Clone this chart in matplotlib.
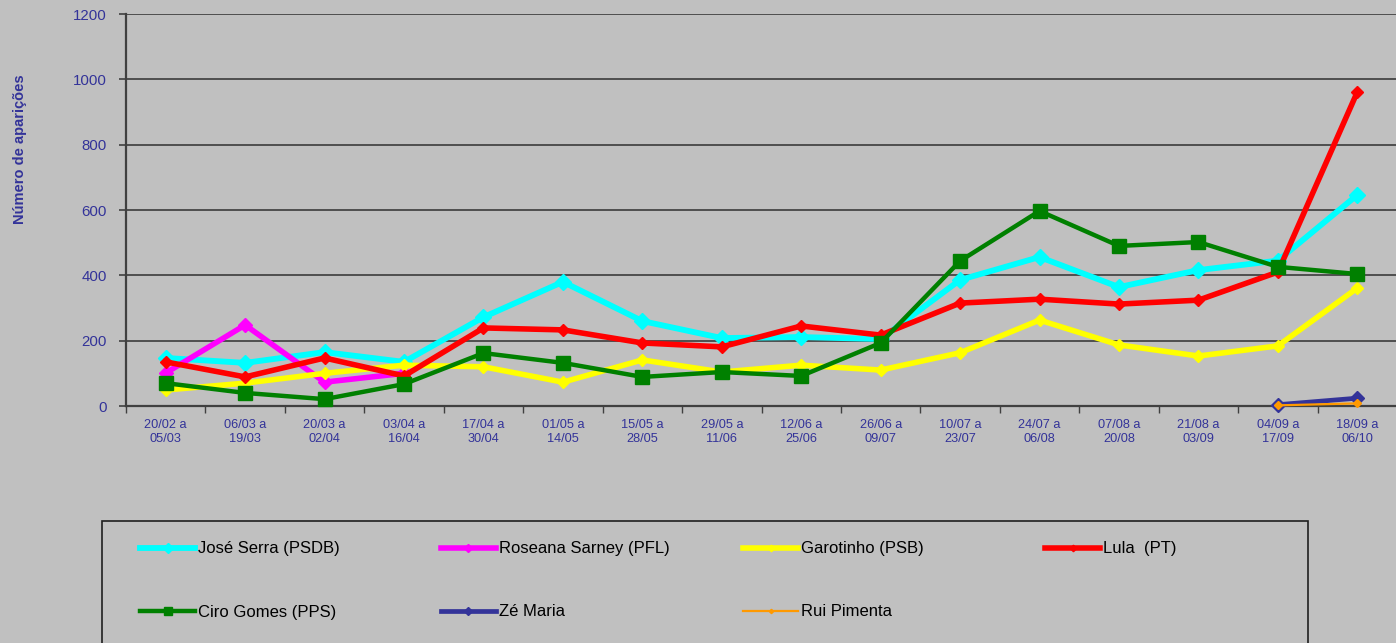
import numpy as np
import matplotlib.pyplot as plt
from matplotlib.patches import Rectangle

plt.rcParams['font.family'] = ['Liberation Sans', 'DejaVu Sans']

# periods (x categories)
periods = ['20/02 a\n05/03', '06/03 a\n19/03', '20/03 a\n02/04', '03/04 a\n16/04',
           '17/04 a\n30/04', '01/05 a\n14/05', '15/05 a\n28/05', '29/05 a\n11/06',
           '12/06 a\n25/06', '26/06 a\n09/07', '10/07 a\n23/07', '24/07 a\n06/08',
           '07/08 a\n20/08', '21/08 a\n03/09', '04/09 a\n17/09', '18/09 a\n06/10']

# number of appearances per candidate (None = no data)
serra    = [147, 132, 165, 135, 272, 380, 260, 208, 211, 205, 386, 456, 364, 416, 445, 646]
roseana  = [101, 248, 73, 100] + [None] * 12
garotinho = [49, 70, 100, 125, 120, 73, 141, 104, 125, 110, 163, 263, 187, 153, 184, 361]
lula     = [135, 89, 147, 92, 239, 233, 193, 181, 245, 217, 315, 327, 312, 324, 410, 961]
ciro     = [70, 40, 21, 67, 162, 132, 89, 104, 92, 193, 444, 597, 490, 502, 426, 404]
ze_maria = [None] * 14 + [4, 24]
rui      = [None] * 14 + [2, 8]

names = ['José Serra (PSDB)', 'Roseana Sarney (PFL)', 'Garotinho (PSB)', 'Lula  (PT)',
         'Ciro Gomes (PPS)', 'Zé Maria', 'Rui Pimenta']
series = [serra, roseana, garotinho, lula, ciro, ze_maria, rui]
colors = ['#00FFFF', '#FF00FF', '#FFFF00', '#FF0000', '#008000', '#333399', '#FF9900']
markers = ['D', 'D', 'D', 'D', 's', 'D', 'D']
msizes = [8.5, 7.5, 6, 6, 9.5, 7, 4]
lws = [4.2, 4, 4, 4, 3.2, 3.4, 1.6]

bg = '#C0C0C0'
txtblue = '#333399'

fig = plt.figure(figsize=(13.96, 6.43), dpi=100, facecolor=bg)
ax = fig.add_axes([126/1396, (643-406)/643, 1271/1396, 392/643])
ax.set_facecolor(bg)

x = np.arange(len(periods))
lines = []
for vals, name, c, m, ms, lw in zip(series, names, colors, markers, msizes, lws):
    y = np.array([np.nan if v is None else v for v in vals], dtype=float)
    ln, = ax.plot(x, y, color=c, marker=m, markersize=ms, lw=lw, label=name,
                  markeredgecolor=c, clip_on=False, zorder=3)
    lines.append(ln)

ax.set_xlim(-0.5, len(periods) - 0.5)
ax.set_ylim(0, 1200)
ax.set_yticks(np.arange(0, 1201, 200))
ax.yaxis.grid(True, color='#303030', lw=1.1)
ax.set_axisbelow(True)

ax.set_xticks(x)
ax.set_xticklabels(periods, fontsize=9.2, color=txtblue, linespacing=1.25)
ax.set_xticks(np.arange(-0.5, len(periods), 1), minor=True)
ax.tick_params(axis='x', which='major', length=0, pad=9)
ax.tick_params(axis='x', which='minor', length=5, width=1, color='#404040')
ax.tick_params(axis='y', length=5, width=1.2, color='#404040', labelsize=10.8,
               labelcolor=txtblue, pad=9)

for s in ['top', 'right']:
    ax.spines[s].set_visible(False)
for s in ['left', 'bottom']:
    ax.spines[s].set_color('#404040')
    ax.spines[s].set_linewidth(1.6)

fig.text(20/1396, 1 - 149/643, 'Número de aparições', rotation=90, ha='center',
         va='center', fontsize=10.5, fontweight='bold', color=txtblue)

# legend frame
fig.patches.append(Rectangle((102/1396, -0.05), 1206/1396, 0.05 + (643-521)/643,
                             transform=fig.transFigure, facecolor=bg,
                             edgecolor='#202020', lw=1.2, zorder=0))

col_x = [140, 441, 743, 1045]
row_y = [549, 612]
pos = [(0, 0), (1, 0), (2, 0), (3, 0), (0, 1), (1, 1), (2, 1)]
for ln, (ci, ri) in zip(lines, pos):
    fig.legend(handles=[ln], loc='center left',
               bbox_to_anchor=(col_x[ci]/1396, 1 - row_y[ri]/643),
               frameon=False, borderpad=0, borderaxespad=0, fontsize=12,
               handlelength=3.3, handletextpad=0.2, markerscale=0.55)

fig.savefig('out.png', dpi=100, facecolor=bg)
